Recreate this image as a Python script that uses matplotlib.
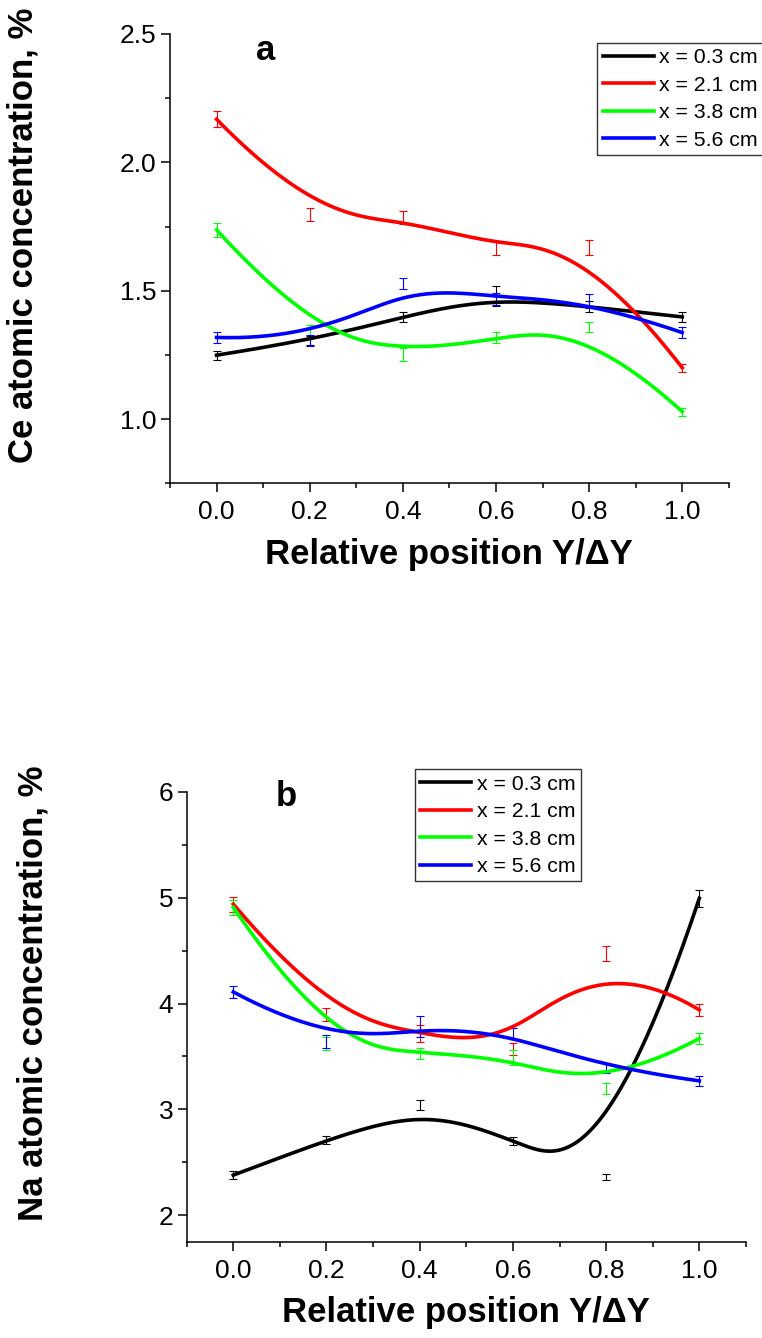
import numpy as np
import matplotlib
matplotlib.use("Agg")
import matplotlib.pyplot as plt

plt.rcParams['font.family'] = ['Liberation Sans', 'DejaVu Sans']

# relative position
pos = [0.0, 0.2, 0.4, 0.6, 0.8, 1.0]
labels = ['x = 0.3 cm', 'x = 2.1 cm', 'x = 3.8 cm', 'x = 5.6 cm']
colors = ['#000000', '#ff0000', '#00ff00', '#0000ff']

# panel a : Ce
ce_vals = [
    [1.249, 1.306, 1.398, 1.480, 1.438, 1.398],
    [2.168, 1.797, 1.785, 1.667, 1.669, 1.200],
    [1.737, 1.340, 1.253, 1.318, 1.359, 1.029],
    [1.318, 1.307, 1.528, 1.469, 1.461, 1.337],
]
ce_err = [
    [0.017, 0.018, 0.019, 0.040, 0.022, 0.020],
    [0.032, 0.027, 0.027, 0.027, 0.030, 0.016],
    [0.027, 0.025, 0.025, 0.020, 0.020, 0.016],
    [0.020, 0.022, 0.022, 0.024, 0.028, 0.020],
]

# panel b : Na
na_vals = [
    [2.379, 2.71, 3.04, 2.70, 2.363, 4.995],
    [4.94, 3.90, 3.72, 3.57, 4.47, 3.94],
    [4.91, 3.62, 3.53, 3.49, 3.20, 3.67],
    [4.11, 3.64, 3.78, 3.72, 3.39, 3.27],
]
na_err = [
    [0.04, 0.04, 0.05, 0.04, 0.03, 0.08],
    [0.07, 0.06, 0.08, 0.06, 0.07, 0.06],
    [0.07, 0.06, 0.05, 0.07, 0.05, 0.05],
    [0.06, 0.06, 0.10, 0.05, 0.05, 0.05],
]


def bspline(px, py, k=3, n=300):
    # clamped B-spline using the points as control points
    px = np.asarray(px, float)
    py = np.asarray(py, float)
    m = len(px)
    inner = np.linspace(0, 1, m - k + 1)
    knots = np.concatenate([[0] * k, inner, [1] * k])
    t = np.linspace(0, 1, n)
    t[-1] = 1 - 1e-12
    N = np.zeros((n, len(knots) - 1))
    for i in range(len(knots) - 1):
        N[:, i] = (t >= knots[i]) & (t < knots[i + 1])
    for d in range(1, k + 1):
        Nn = np.zeros((n, len(knots) - 1 - d))
        for i in range(len(knots) - 1 - d):
            a = knots[i + d] - knots[i]
            b = knots[i + d + 1] - knots[i + 1]
            term = 0
            if a > 0:
                term = term + (t - knots[i]) / a * N[:, i]
            if b > 0:
                term = term + (knots[i + d + 1] - t) / b * N[:, i + 1]
            Nn[:, i] = term
        N = Nn
    return N @ px, N @ py


fig = plt.figure(figsize=(7.62, 13.38), dpi=100)
ax1 = fig.add_axes([0.2231, 0.6388, 0.7333, 0.3358])
ax2 = fig.add_axes([0.2450, 0.0720, 0.7339, 0.3361])


def draw(ax, vals, errs, ylim, major, minor, ylabel, ylab_xy, letter, letter_xy, leg_anchor):
    for v, e, c, lab in zip(vals, errs, colors, labels):
        ax.errorbar(pos, v, yerr=e, fmt='none', ecolor=c, elinewidth=0.8,
                    capsize=3.2, capthick=0.8, zorder=2)
        sx, sy = bspline(pos, v)
        ax.plot(sx, sy, color=c, lw=2.6, label=lab, zorder=3)
    ax.set_xlim(-0.1, 1.1)
    ax.set_ylim(*ylim)
    ax.set_xticks(np.arange(0, 1.01, 0.2))
    ax.set_xticks(np.arange(-0.1, 1.11, 0.1), minor=True)
    ax.set_yticks(major)
    ax.set_yticks(minor, minor=True)
    ax.spines['top'].set_visible(False)
    ax.spines['right'].set_visible(False)
    for s in ['left', 'bottom']:
        ax.spines[s].set_linewidth(1.1)
    ax.tick_params(which='major', direction='out', length=6.2, width=1.1, labelsize=19)
    ax.tick_params(which='minor', direction='out', length=3.4, width=1.1)
    ax.tick_params(axis='x', which='major', pad=6)
    ax.tick_params(axis='y', which='major', pad=3.5)
    ax.set_xlabel('Relative position Y/\u0394Y', fontsize=25, fontweight='bold', labelpad=10)
    ax.set_ylabel(ylabel, fontsize=25, fontweight='bold', va='center')
    ax.yaxis.set_label_coords(*ylab_xy)
    ax.text(letter_xy[0], letter_xy[1], letter, transform=ax.transAxes,
            fontsize=25, fontweight='bold', ha='center', va='center')
    leg = ax.legend(loc='upper left', bbox_to_anchor=leg_anchor, fontsize=15.3,
                    frameon=True, fancybox=False, edgecolor='black',
                    handlelength=2.4, handletextpad=0.25, labelspacing=0.4,
                    borderpad=0.25, borderaxespad=0)
    leg.get_frame().set_linewidth(1.0)


draw(ax1, ce_vals, ce_err, (0.8, 2.5), [1.0, 1.5, 2.0, 2.5],
     np.arange(0.75, 2.51, 0.25), 'Ce atomic concentration, %', (-0.2625, 0.5526),
     'a', (0.172, 0.964), (0.7647, 0.9806))
draw(ax2, na_vals, na_err, (1.75, 6.0), [2, 3, 4, 5, 6],
     np.arange(2, 6.01, 0.5), 'Na atomic concentration, %', (-0.275, 0.553),
     'b', (0.178, 0.991), (0.4083, 1.0505))

fig.savefig('out.png', dpi=100)
